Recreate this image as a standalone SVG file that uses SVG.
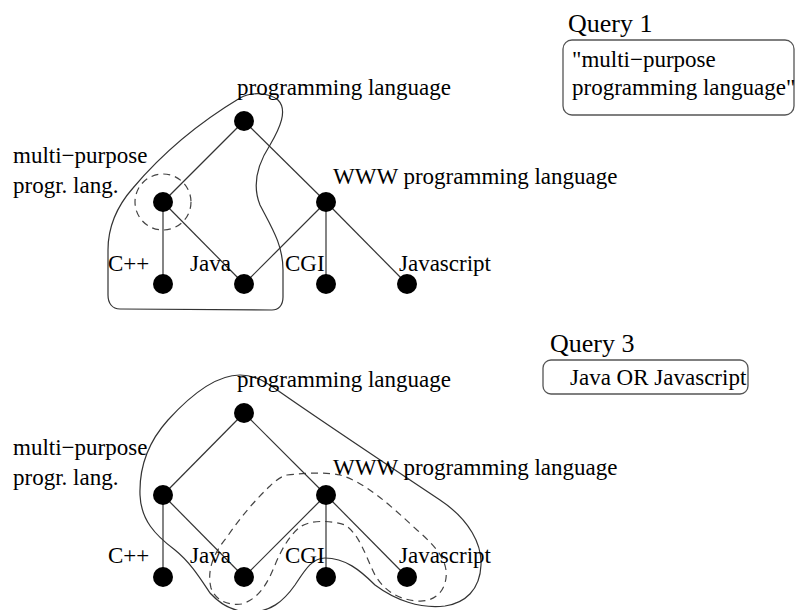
<svg xmlns="http://www.w3.org/2000/svg" width="795" height="610" viewBox="0 0 795 610">
<style>
.t{font-family:"Liberation Serif","Times New Roman",serif;font-size:23px;fill:#000}
.q{font-family:"Liberation Serif","Times New Roman",serif;font-size:26px;fill:#000}
.e{stroke:#333;stroke-width:1.2;fill:none}
.n{fill:#000}
.hull{stroke:#333;stroke-width:1.2;fill:none}
.dash{stroke:#444;stroke-width:1.2;fill:none;stroke-dasharray:7 5}
.box{fill:#fff;stroke:#555;stroke-width:1.3}
</style>
<rect width="795" height="610" fill="#fff"/>

<!-- Top diagram -->
<g id="top-hulls">
<path class="hull" d="M240,98 C250,92 268,92 278,100 C288,110 280,128 270,145 C257,165 252,185 260,205 C272,228 283,245 283,270 L283,297 C283,306 278,310 272,310 L120,309 C112,309 108,303 108,295 L108,250 C108,225 118,205 133,188 C165,150 200,122 240,98 Z"/>
<circle class="dash" cx="163" cy="202" r="28"/>
</g>
<g id="top-connectors">
<line class="e" x1="244" y1="121" x2="163" y2="202"/>
<line class="e" x1="244" y1="121" x2="326" y2="202"/>
<line class="e" x1="163" y1="202" x2="163" y2="284"/>
<line class="e" x1="163" y1="202" x2="244" y2="284"/>
<line class="e" x1="326" y1="202" x2="244" y2="284"/>
<line class="e" x1="326" y1="202" x2="326" y2="284"/>
<line class="e" x1="326" y1="202" x2="407" y2="284"/>
</g>
<g id="top-programming-language"><circle class="n" cx="244" cy="121" r="10"/><text class="t" x="237" y="95">programming language</text></g>
<g id="top-multi-purpose"><circle class="n" cx="163" cy="202" r="10"/><text class="t" x="13" y="163">multi−purpose</text><text class="t" x="13" y="193">progr. lang.</text></g>
<g id="top-www"><circle class="n" cx="326" cy="202" r="10"/><text class="t" x="333" y="184">WWW programming language</text></g>
<g id="top-cpp"><circle class="n" cx="163" cy="284" r="10"/><text class="t" x="108" y="271">C++</text></g>
<g id="top-java"><circle class="n" cx="244" cy="284" r="10"/><text class="t" x="190" y="271">Java</text></g>
<g id="top-cgi"><circle class="n" cx="326" cy="284" r="10"/><text class="t" x="285" y="271">CGI</text></g>
<g id="top-javascript"><circle class="n" cx="407" cy="284" r="10"/><text class="t" x="399" y="271">Javascript</text></g>

<g id="query1">
<text class="q" x="568" y="32">Query 1</text>
<rect class="box" x="563" y="40" width="231" height="75" rx="9"/>
<text class="t" x="572" y="67">"multi−purpose</text>
<text class="t" x="572" y="95">programming language"</text>
</g>

<!-- Bottom diagram -->
<g id="bottom-hulls">
<path class="hull" d="M240,375 C256,375 266,382 280,392 C320,420 380,460 440,500 C470,520 482,545 481,565 C480,590 465,603 445,606 C420,609 395,600 375,585 C360,570 345,558 325,558 C312,558 305,570 295,585 C283,602 270,612 250,612 C232,612 220,604 210,593 C200,578 190,562 175,550 C155,535 141,520 140,495 C139,465 150,440 168,420 C188,398 215,375 240,375 Z"/>
<path class="dash" d="M287,475 C305,473 325,472 340,475 C365,482 390,505 417,530 C438,548 448,562 446,578 C444,594 432,602 418,601 C400,600 385,592 375,575 C365,555 360,535 345,525 C330,520 310,520 300,527 C290,535 282,548 275,565 C268,582 260,598 242,604 C228,606 215,600 211,588 C207,572 212,555 227,537 C240,518 255,500 270,486 C276,480 282,476 287,475 Z"/>
</g>
<g id="bottom-connectors">
<line class="e" x1="244" y1="413" x2="163" y2="495"/>
<line class="e" x1="244" y1="413" x2="326" y2="495"/>
<line class="e" x1="163" y1="495" x2="163" y2="577"/>
<line class="e" x1="163" y1="495" x2="244" y2="577"/>
<line class="e" x1="326" y1="495" x2="244" y2="577"/>
<line class="e" x1="326" y1="495" x2="326" y2="577"/>
<line class="e" x1="326" y1="495" x2="407" y2="577"/>
</g>
<g id="bottom-programming-language"><circle class="n" cx="244" cy="413" r="10"/><text class="t" x="237" y="387">programming language</text></g>
<g id="bottom-multi-purpose"><circle class="n" cx="163" cy="495" r="10"/><text class="t" x="13" y="455">multi−purpose</text><text class="t" x="13" y="485">progr. lang.</text></g>
<g id="bottom-www"><circle class="n" cx="326" cy="495" r="10"/><text class="t" x="333" y="475">WWW programming language</text></g>
<g id="bottom-cpp"><circle class="n" cx="163" cy="577" r="10"/><text class="t" x="108" y="563">C++</text></g>
<g id="bottom-java"><circle class="n" cx="244" cy="577" r="10"/><text class="t" x="190" y="563">Java</text></g>
<g id="bottom-cgi"><circle class="n" cx="326" cy="577" r="10"/><text class="t" x="285" y="563">CGI</text></g>
<g id="bottom-javascript"><circle class="n" cx="407" cy="577" r="10"/><text class="t" x="399" y="563">Javascript</text></g>

<g id="query3">
<text class="q" x="550" y="352">Query 3</text>
<rect class="box" x="543" y="360" width="205" height="34" rx="8"/>
<text class="t" x="570" y="385">Java OR Javascript</text>
</g>
</svg>
